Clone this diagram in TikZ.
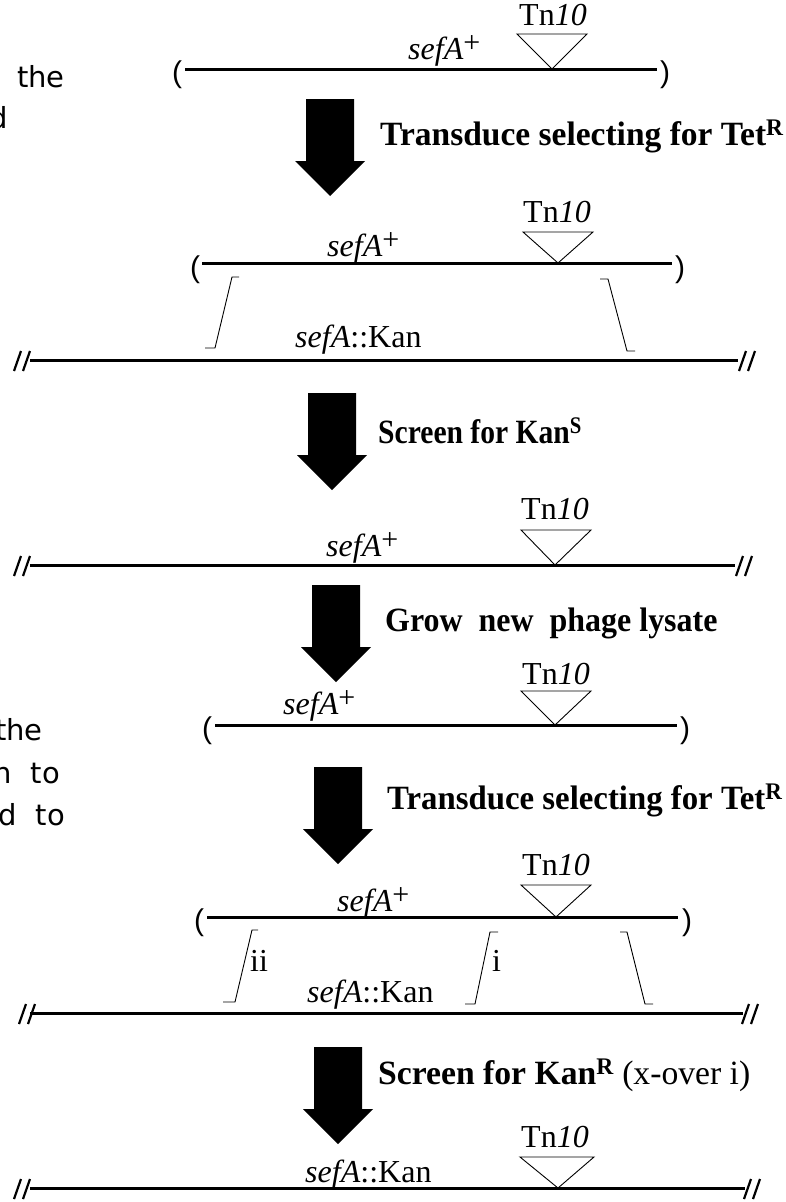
\documentclass[tikz,border=0pt]{standalone}
\usepackage{fontspec}
\setmainfont{Liberation Serif}
\newfontfamily\sidefont{DejaVu Sans}
\newfontfamily\parfont{Liberation Sans}
\newcommand{\plusup}{\raisebox{7pt}{\fontsize{30}{30}\selectfont\mdseries\upshape +}}
\newcommand{\sefplus}{\textit{sefA}\plusup}
\begin{document}
\begin{tikzpicture}[x=1pt,y=-1pt,
  lbl/.style={font=\fontsize{32}{38}\selectfont, inner sep=0pt, anchor=base west},
  tnlbl/.style={font=\fontsize{32}{38}\selectfont, inner sep=0pt, anchor=base},
  stp/.style={font=\fontsize{34}{40}\selectfont\bfseries, inner sep=0pt, anchor=base west},
  side/.style={font=\sidefont\fontsize{29}{34}\selectfont, inner sep=0pt, anchor=base east},
  par/.style={font=\parfont\fontsize{30}{34}\selectfont, inner sep=0pt},
  dna/.style={line width=3pt},
  thinl/.style={line width=0.9pt},
  brk/.style={line width=2.2pt},
  bigarrow/.pic={\fill (-24,0) -- (24,0) -- (24,62) -- (35,62) -- (0,97) -- (-35,62) -- (-24,62) -- cycle;},
  dbreak/.pic={\draw[brk] (-8,10) -- (-1,-10); \draw[brk] (1,10) -- (8,-10);}
]
\useasboundingbox (0,0) rectangle (786,1202);

% side text fragments
\node[side] (s1) at (65,87) {the};
\node[side] (s2) at (8,128) {d};
\node[side] (s3) at (43,740) {the};
\node[side] (s4) at (60,783) {n\ \ to};
\node[side] (s5) at (65,825) {d\ \ to};

% ---------- diagram 1 (phage) ----------
\coordinate (d1a) at (185,69); \coordinate (d1b) at (657,69);
\draw[dna] (d1a) -- (d1b);
\node[par] (p1l) at (177,75) {(};
\node[par] (p1r) at (665,75) {)};
\coordinate (t1l) at (517,34); \coordinate (t1r) at (587,34); \coordinate (t1a) at (552,69);
\draw[thinl] (t1l) -- (t1r) -- (t1a) -- cycle;
\node[tnlbl] (tn1) at (553,25) {Tn\textit{10}};
\node[lbl] (sa1) at (408,59) {\sefplus};

\pic at (330,99) {bigarrow};
\node[stp] (l1) at (380,145) {\scalebox{0.985}[1]{Transduce selecting for Tet\textsuperscript{R}}};

% ---------- diagram 2 ----------
\coordinate (d2a) at (202,263); \coordinate (d2b) at (672,263);
\draw[dna] (d2a) -- (d2b);
\node[par] (p2l) at (195,270) {(};
\node[par] (p2r) at (680,270) {)};
\coordinate (t2l) at (523,232); \coordinate (t2r) at (593,232); \coordinate (t2a) at (558,263);
\draw[thinl] (t2l) -- (t2r) -- (t2a) -- cycle;
\node[tnlbl] (tn2) at (557,222) {Tn\textit{10}};
\node[lbl] (sa2) at (327,256) {\sefplus};
\coordinate (c2a) at (30,360); \coordinate (c2b) at (738,360);
\draw[dna] (c2a) -- (c2b);
\pic at (22,361) {dbreak};
\pic at (747,361) {dbreak};
\node[lbl] (sk2) at (295,347) {\textit{sefA}::Kan};
\draw[thinl] (205,348) -- (215,348) -- (232,277) -- (239,277);
\draw[thinl] (600,279) -- (608,279) -- (627,351) -- (635,351);

\pic at (332,393) {bigarrow};
\node[stp] (l2) at (378,443) {\scalebox{0.87}[1]{Screen for Kan\textsuperscript{S}}};

% ---------- diagram 3 ----------
\coordinate (d3a) at (30,565); \coordinate (d3b) at (735,565);
\draw[dna] (d3a) -- (d3b);
\pic at (22,566) {dbreak};
\pic at (744,566) {dbreak};
\coordinate (t3l) at (521,530); \coordinate (t3r) at (591,530); \coordinate (t3a) at (555,565);
\draw[thinl] (t3l) -- (t3r) -- (t3a) -- cycle;
\node[tnlbl] (tn3) at (555,519) {Tn\textit{10}};
\node[lbl] (sa3) at (326,556) {\sefplus};

\pic at (336,585) {bigarrow};
\node[stp] (l3) at (385,631) {\scalebox{0.94}[1]{Grow\ \ new\ \ phage lysate}};

% ---------- diagram 4 (phage) ----------
\coordinate (d4a) at (215,725); \coordinate (d4b) at (677,725);
\draw[dna] (d4a) -- (d4b);
\node[par] (p4l) at (207,731) {(};
\node[par] (p4r) at (685,731) {)};
\coordinate (t4l) at (521,691); \coordinate (t4r) at (591,691); \coordinate (t4a) at (555,725);
\draw[thinl] (t4l) -- (t4r) -- (t4a) -- cycle;
\node[tnlbl] (tn4) at (556,684) {Tn\textit{10}};
\node[lbl] (sa4) at (283,714) {\sefplus};

\pic at (338,767) {bigarrow};
\node[stp] (l4) at (387,809) {\scalebox{0.965}[1]{Transduce selecting for Tet\textsuperscript{R}}};

% ---------- diagram 5 ----------
\coordinate (d5a) at (207,917); \coordinate (d5b) at (678,917);
\draw[dna] (d5a) -- (d5b);
\node[par] (p5l) at (199,923) {(};
\node[par] (p5r) at (687,923) {)};
\coordinate (t5l) at (521,885); \coordinate (t5r) at (591,885); \coordinate (t5a) at (556,917);
\draw[thinl] (t5l) -- (t5r) -- (t5a) -- cycle;
\node[tnlbl] (tn5) at (556,875) {Tn\textit{10}};
\node[lbl] (sa5) at (337,911) {\sefplus};
\coordinate (c5a) at (30,1013); \coordinate (c5b) at (743,1013);
\draw[dna] (c5a) -- (c5b);
\pic at (27,1014) {dbreak};
\pic at (750,1014) {dbreak};
\node[lbl] (sk5) at (307,1002) {\textit{sefA}::Kan};
\draw[thinl] (223,1002) -- (235,1002) -- (252,930) -- (258,930);
\draw[thinl] (465,1004) -- (475,1004) -- (490,932) -- (498,932);
\draw[thinl] (620,932) -- (627,932) -- (645,1004) -- (653,1004);
\node[lbl] (ii) at (250,971) {ii};
\node[lbl] (i) at (492,971) {i};

\pic at (338,1047) {bigarrow};
\node[stp] (l5) at (378,1084) {\scalebox{0.99}[1]{Screen for Kan\textsuperscript{R} {\mdseries (x-over i)}}};

% ---------- diagram 6 ----------
\coordinate (d6a) at (30,1188); \coordinate (d6b) at (745,1188);
\draw[dna] (d6a) -- (d6b);
\pic at (22,1189) {dbreak};
\pic at (752,1189) {dbreak};
\coordinate (t6l) at (520,1157); \coordinate (t6r) at (594,1157); \coordinate (t6a) at (558,1188);
\draw[thinl] (t6l) -- (t6r) -- (t6a) -- cycle;
\node[tnlbl] (tn6) at (555,1147) {Tn\textit{10}};
\node[lbl] (sk6) at (305,1182) {\textit{sefA}::Kan};
\end{tikzpicture}
\end{document}
